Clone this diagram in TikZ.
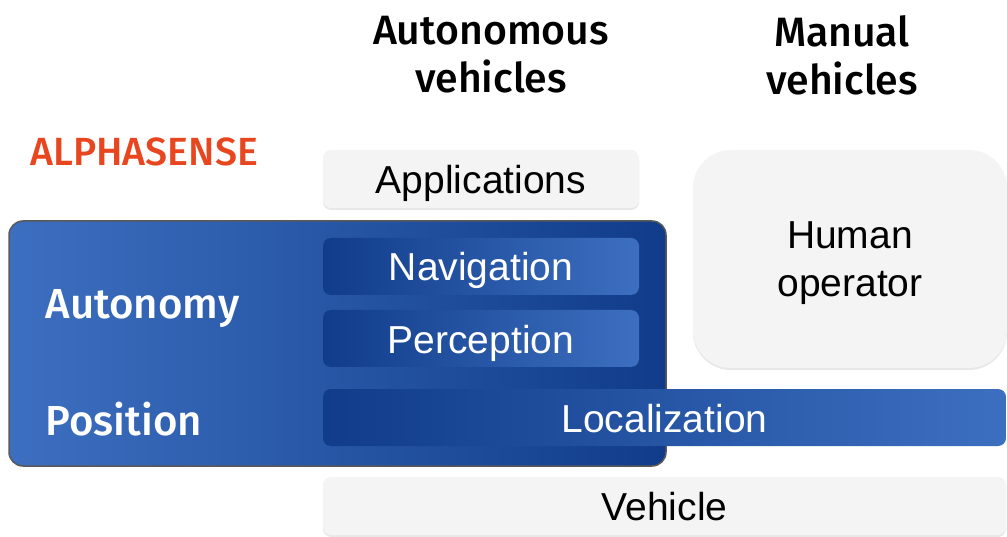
\documentclass[tikz,border=0pt]{standalone}
\usepackage{fontspec}
\setmainfont{Liberation Sans}
\newfontfamily\headfont{Fira Sans}[BoldFont={Fira Sans Medium}]
\usetikzlibrary{shadows}
\definecolor{bdark}{HTML}{103C8A}
\definecolor{blight}{HTML}{3D6FC0}
\definecolor{lgray}{HTML}{F4F4F4}
\definecolor{alpha}{HTML}{E8461E}
\begin{document}
\begin{tikzpicture}[x=1pt,y=-1pt,
  lightbox/.style={rounded corners=8pt, fill=lgray, inner sep=0pt,
    drop shadow={opacity=0.18, shadow xshift=0pt, shadow yshift=-2pt},
    font=\fontsize{39}{45}\selectfont, text=black, text height=29pt, text depth=0pt},
  bluebox/.style={rounded corners=8pt, left color=bdark, right color=blight,
    inner sep=0pt, font=\fontsize{39}{45}\selectfont, text=white, text height=29pt, text depth=0pt},
  head/.style={font=\headfont\bfseries\fontsize{41}{48}\selectfont, align=center, text=black},
  side/.style={font=\headfont\bfseries\fontsize{42}{45}\selectfont, text=white, anchor=west}]
\useasboundingbox (0,0) rectangle (1007,537);
\fill[white] (0,0) rectangle (1007,537);
% headers
\node[head] (hauto) at (491,55) {Autonomous\\vehicles};
\node[head] (hman) at (842,55) {Manual\\vehicles};
\node[font=\headfont\bfseries\fontsize{39.3}{40}\selectfont, text=alpha, anchor=west] (alpha) at (27,152) {ALPHASENSE};
% light boxes
\node[lightbox, minimum width=316, minimum height=58] (app) at (481,179) {Applications};
\node[lightbox, rounded corners=38pt, minimum width=314, minimum height=218] (human) at (850,259) {};
\node[align=center, font=\fontsize{39}{48}\selectfont, inner sep=0pt] (humantext)
  at ([yshift=-4pt]human.center) {Human\\operator};
% big blue box
\node[draw=black!65, line width=1.5pt, rounded corners=14pt, left color=blight, right color=bdark,
  minimum width=657, minimum height=245, inner sep=0pt] (auto) at (337.5,343.5) {};
\node[side] (autonomy) at (42,309) {Autonomy};
\node[side] (position) at (42,419) {Position};
\node[bluebox, minimum width=316, minimum height=57] (nav) at (481,266.5) {Navigation};
\node[bluebox, minimum width=316, minimum height=57] (perc) at (481,338.5) {Perception};
\node[bluebox, minimum width=683, minimum height=57] (loc) at (664.5,417.5) {Localization};
\node[lightbox, minimum width=683, minimum height=58] (veh) at (664.5,506) {Vehicle};
\end{tikzpicture}
\end{document}
